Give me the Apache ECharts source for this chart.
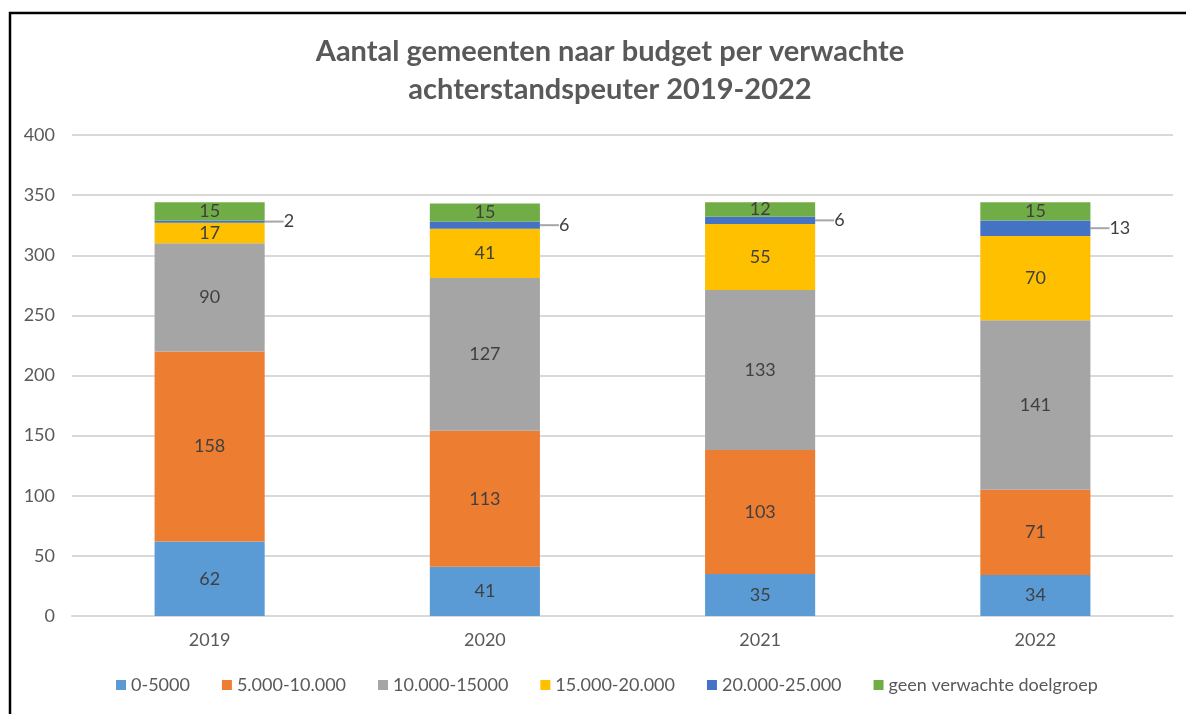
<!DOCTYPE html>
<html>
<head>
<meta charset="utf-8">
<script src="https://cdn.jsdelivr.net/npm/echarts@6/dist/echarts.min.js"></script>
<style>
html,body{margin:0;padding:0;background:#fff;}
#c{width:1186px;height:714px;}
</style>
</head>
<body>
<div id="c"></div>
<script>
const categories = ['2019', '2020', '2021', '2022'];
const seriesNames = ['0-5000', '5.000-10.000', '10.000-15000', '15.000-20.000', '20.000-25.000', 'geen verwachte doelgroep'];
const s0_5000 = [62, 41, 35, 34];
const s5000_10000 = [158, 113, 103, 71];
const s10000_15000 = [90, 127, 133, 141];
const s15000_20000 = [17, 41, 55, 70];
const s20000_25000 = [2, 6, 6, 13];
const sGeen = [15, 15, 12, 15];
const yTicks = [0, 50, 100, 150, 200, 250, 300, 350, 400];

const colors = ['#5B9BD5', '#ED7D31', '#A5A5A5', '#FFC000', '#4472C4', '#70AD47'];
const values = [s0_5000, s5000_10000, s10000_15000, s15000_20000, s20000_25000, sGeen];
const FONT = 'Lato';
const FS = 18;

const series = values.map((v, i) => {
  const s = {
    name: seriesNames[i],
    type: 'bar',
    stack: 'total',
    barWidth: '40%',
    data: v,
    itemStyle: { color: colors[i] },
    label: {
      show: true,
      position: 'inside',
      color: '#404040',
      fontSize: FS,
      fontFamily: FONT
    }
  };
  if (i === 4) {
    s.label = {
      show: true,
      position: 'right',
      distance: 6,
      color: '#404040',
      fontSize: FS,
      fontFamily: FONT
    };
    s.labelLayout = { dx: 13 };
    s.labelLine = { show: true, length2: 0, lineStyle: { color: '#A6A6A6', width: 2 } };
  }
  return s;
});

const chart = echarts.init(document.getElementById('c'), null, { renderer: 'canvas' });
chart.setOption({
  animation: false,
  color: colors,
  title: {
    text: 'Aantal gemeenten naar budget per verwachte\nachterstandspeuter 2019-2022',
    left: 605,
    textAlign: 'center',
    top: 28,
    textStyle: {
      fontFamily: FONT,
      fontWeight: 'bold',
      fontSize: 29,
      color: '#595959',
      lineHeight: 38
    }
  },
  grid: { left: 72, right: 13, top: 135, bottom: 98, containLabel: false },
  xAxis: {
    type: 'category',
    data: categories,
    axisLine: { lineStyle: { color: '#D9D9D9', width: 2 } },
    axisTick: { show: false },
    axisLabel: { color: '#595959', fontSize: FS, fontFamily: FONT, margin: 15 }
  },
  yAxis: {
    type: 'value',
    min: yTicks[0],
    max: yTicks[yTicks.length - 1],
    interval: 50,
    axisLine: { show: false },
    axisTick: { show: false },
    splitLine: { lineStyle: { color: '#D9D9D9', width: 2 } },
    axisLabel: { color: '#595959', fontSize: FS, fontFamily: FONT, margin: 17 }
  },
  legend: {
    bottom: 15,
    left: 111,
    itemWidth: 10,
    itemHeight: 10,
    itemGap: 32,
    icon: 'rect',
    textStyle: { color: '#595959', fontSize: FS, fontFamily: FONT },
    data: seriesNames
  },
  graphic: [{
    type: 'rect',
    shape: { x: 10, y: 13, width: 1200, height: 800 },
    style: { fill: 'none', stroke: '#000', lineWidth: 2.5 },
    z: 100,
    silent: true
  }],
  series: series
});
</script>
</body>
</html>
